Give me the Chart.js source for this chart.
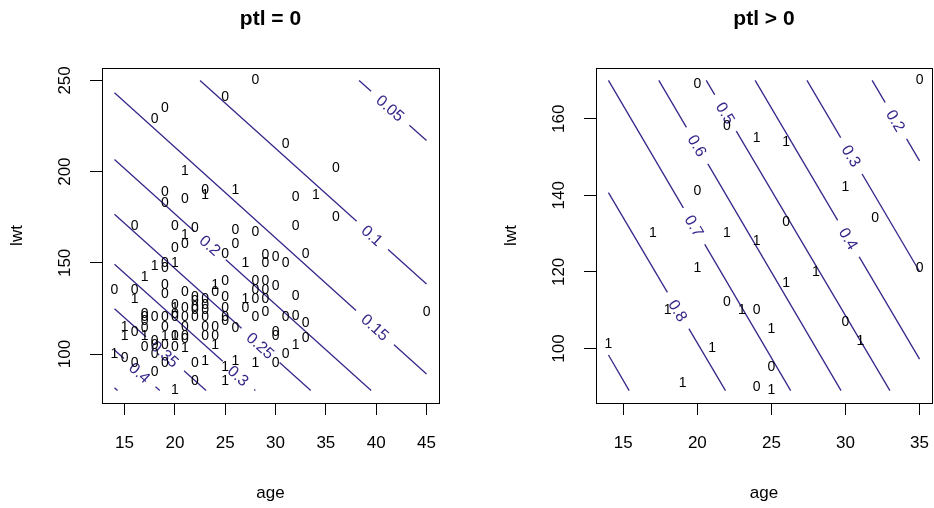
<!DOCTYPE html>
<html>
<head>
<meta charset="utf-8">
<script src="https://cdn.jsdelivr.net/npm/chart.js@4.4.1/dist/chart.umd.min.js"></script>
<style>
html, body { margin: 0; padding: 0; background: #fff; }
#wrap { position: relative; width: 934px; height: 508px; }
canvas { position: absolute; top: 0; }
</style>
</head>
<body>
<div id="wrap">
  <canvas id="leftChart" width="467" height="508" style="left:0px"></canvas>
  <canvas id="rightChart" width="467" height="508" style="left:467px"></canvas>
</div>
<script>
// ---- ptl = 0 : points (age, lwt, low) ----
var leftAge = [28,25,19,18,31,36,21,19,19,21,23,23,26,32,34,36,16,20,22,26,28,32,21,20,21,26,25,33,29,29,30,31,27,18,19,19,20,17,19,25,24,28,29,28,29,30,14,16,16,19,21,22,22,22,22,22,23,23,23,23,23,23,24,24,24,24,25,25,25,25,26,27,28,29,27,28,29,32,31,32,33,33,30,30,32,31,30,28,26,25,22,23,22,25,20,19,18,14,15,16,17,18,18,19,20,21,20,20,21,21,19,19,18,15,15,16,17,17,17,17,17,18,19,20,20,20,20,21,21,21,45];
var leftLwt = [250,241,235,229,215,202,200,189,183,185,190,187,190,186,187,175,170,170,169,168,167,170,165,158,160,160,155,155,154,150,153,150,150,148,150,147,150,142,138,140,138,140,140,135,135,137,135,135,130,133,134,131,129,126,124,120,130,127,124,120,115,110,134,115,110,105,131,125,120,118,114,130,130,130,125,120,123,132,120,121,117,109,112,110,105,100,95,95,96,93,95,96,85,85,80,95,90,100,98,95,104,105,100,105,104,103,110,110,110,108,110,115,107,115,110,112,110,122,120,118,114,120,120,122,120,127,125,125,120,115,123];
var leftLow = [0,0,0,0,0,0,1,0,0,0,0,1,1,0,1,0,0,0,0,0,0,0,1,0,0,0,0,0,0,0,0,0,1,1,0,0,1,1,0,0,1,0,0,0,0,0,0,0,1,0,0,0,0,0,0,0,0,0,0,0,0,0,0,0,0,1,0,0,0,0,0,1,0,0,0,0,0,0,0,0,0,0,0,0,1,0,0,1,1,1,0,1,0,1,1,0,0,1,0,0,0,0,0,0,0,1,0,1,0,0,1,0,0,1,1,0,1,0,0,0,0,0,0,0,0,0,1,0,0,0,0];

// ---- ptl = 0 : contour lines (level, from, to, label position) ----
var leftLevels   = ['0.05', '0.1', '0.15', '0.2', '0.25', '0.3', '0.35', '0.4', null];
var leftLineFrom = [[38.3,250],[22.5,250],[14,243.2],[14,206.7],[14,176.6],[14,149.2],[14,124.9],[14,102.2],[14,81.5]];
var leftLineTo   = [[45,217.1],[45,138.4],[45,89.1],[39.5,80],[33.5,80],[28,80],[23.1,80],[18.5,80],[14.3,80]];
var leftLabelAt  = [[41.4,234.8],[39.6,165],[39.9,114.7],[23.5,159.6],[28.5,104.7],[26.3,88.2],[19,100.1],[16.5,89.8],null];

// ---- ptl > 0 : points ----
var rightAge = [20,35,22,24,26,30,20,26,32,17,22,24,20,35,28,26,22,23,24,18,25,30,31,14,21,25,19,24,25];
var rightLwt = [169,170,158,155,154,142,141,133,134,130,130,128,121,121,120,117,112,110,110,110,105,107,102,101,100,95,91,90,89];
var rightLow = [0,0,0,1,1,1,0,0,0,1,1,1,1,0,1,1,0,1,0,1,1,0,1,1,1,0,1,0,1];

// ---- ptl > 0 : contour lines ----
var rightLevels   = ['0.2', '0.3', '0.4', '0.5', '0.6', '0.7', '0.8', null];
var rightLineFrom = [[31.8,170],[27.4,170],[23.9,170],[20.6,170],[17.4,170],[14,170],[14,140.7],[14,98.3]];
var rightLineTo   = [[35,149],[35,120.1],[35,97.2],[33,89],[29.7,89],[26.3,89],[21.9,89],[15.4,89]];
var rightLabelAt  = [[33.4,159.5],[30.4,150.3],[30.2,128.7],[21.9,161.5],[20,153],[19.8,132],[18.7,109.9],null];

// axis ticks
var leftXTicks = [15, 20, 25, 30, 35, 40, 45];
var leftYTicks = [100, 150, 200, 250];
var rightXTicks = [15, 20, 25, 30, 35];
var rightYTicks = [100, 120, 140, 160];

var contourColor = '#36278a';
var fontFamily = "'Liberation Sans', Arial, Helvetica, sans-serif";

// draws box, axis text, contour labels and the 0/1 point marks
var panelDecor = {
  id: 'panelDecor',
  afterDatasetsDraw: function (chart) {
    var ctx = chart.ctx, xs = chart.scales.x, ys = chart.scales.y, area = chart.chartArea;
    var o = chart.options.plugins.panelDecor;

    // contour labels with a gap in the line
    chart.data.datasets.forEach(function (ds, i) {
      if (!ds.levelLabel) return;
      var pts = chart.getDatasetMeta(i).data;
      var ang = Math.atan2(pts[1].y - pts[0].y, pts[1].x - pts[0].x);
      var px = xs.getPixelForValue(ds.labelAt[0]);
      var py = ys.getPixelForValue(ds.labelAt[1]);
      ctx.save();
      ctx.translate(px, py);
      ctx.rotate(ang);
      ctx.font = '16px ' + fontFamily;
      var w = ctx.measureText(ds.levelLabel).width;
      ctx.fillStyle = '#fff';
      ctx.fillRect(-w / 2 - 10, -4, w + 20, 8);
      ctx.fillStyle = contourColor;
      ctx.textAlign = 'center';
      ctx.textBaseline = 'middle';
      ctx.fillText(ds.levelLabel, 0, 1);
      ctx.restore();
    });

    // point marks
    chart.data.datasets.forEach(function (ds, i) {
      if (!ds.marks) return;
      var meta = chart.getDatasetMeta(i);
      ctx.save();
      ctx.font = '14px ' + fontFamily;
      ctx.fillStyle = '#000';
      ctx.textAlign = 'center';
      ctx.textBaseline = 'middle';
      meta.data.forEach(function (el, j) {
        ctx.fillText(String(ds.marks[j]), el.x, el.y);
      });
      ctx.restore();
    });

    // box
    ctx.save();
    ctx.strokeStyle = '#000';
    ctx.lineWidth = 1;
    ctx.strokeRect(Math.round(area.left) + 0.5, Math.round(area.top) + 0.5,
                   Math.round(area.right - area.left), Math.round(area.bottom - area.top));

    // tick labels
    ctx.fillStyle = '#000';
    ctx.font = '17px ' + fontFamily;
    ctx.textAlign = 'center';
    ctx.textBaseline = 'middle';
    o.xTicks.forEach(function (v) {
      ctx.fillText(String(v), xs.getPixelForValue(v), area.bottom + 40);
    });
    o.yTicks.forEach(function (v) {
      ctx.save();
      ctx.translate(area.left - 37, ys.getPixelForValue(v));
      ctx.rotate(-Math.PI / 2);
      ctx.fillText(String(v), 0, 0);
      ctx.restore();
    });

    // axis titles
    var cx = (area.left + area.right) / 2, cy = (area.top + area.bottom) / 2;
    ctx.fillText('age', cx, area.bottom + 90);
    ctx.save();
    ctx.translate(area.left - 85, cy);
    ctx.rotate(-Math.PI / 2);
    ctx.fillText('lwt', 0, 0);
    ctx.restore();

    // panel title
    ctx.font = 'bold 21px ' + fontFamily;
    ctx.fillText(o.title, cx, 19);
    ctx.restore();
  }
};

function buildPanel(canvasId, p) {
  var datasets = [];
  p.levels.forEach(function (lev, i) {
    datasets.push({
      type: 'line',
      data: [{ x: p.from[i][0], y: p.from[i][1] }, { x: p.to[i][0], y: p.to[i][1] }],
      borderColor: contourColor,
      borderWidth: 1.3,
      pointRadius: 0,
      fill: false,
      levelLabel: lev,
      labelAt: p.labelAt[i]
    });
  });
  datasets.push({
    type: 'scatter',
    data: p.age.map(function (a, i) { return { x: a, y: p.lwt[i] }; }),
    pointRadius: 0,
    marks: p.low
  });

  var tickGrid = { drawOnChartArea: false, drawTicks: true, tickLength: 12, color: '#000', lineWidth: 1 };

  return new Chart(document.getElementById(canvasId), {
    type: 'scatter',
    data: { datasets: datasets },
    options: {
      responsive: false,
      animation: false,
      layout: { padding: { top: 68, right: p.padRight, left: 0, bottom: 0 } },
      plugins: {
        legend: { display: false },
        tooltip: { enabled: false },
        panelDecor: { title: p.title, xTicks: p.xTicks, yTicks: p.yTicks }
      },
      scales: {
        x: {
          type: 'linear', min: p.xMin, max: p.xMax,
          afterBuildTicks: function (s) { s.ticks = p.xTicks.map(function (v) { return { value: v }; }); },
          afterFit: function (s) { s.height = 105; },
          ticks: { display: false },
          grid: tickGrid,
          border: { display: false }
        },
        y: {
          type: 'linear', min: p.yMin, max: p.yMax,
          afterBuildTicks: function (s) { s.ticks = p.yTicks.map(function (v) { return { value: v }; }); },
          afterFit: function (s) { s.width = p.yAxisWidth; },
          ticks: { display: false },
          grid: tickGrid,
          border: { display: false }
        }
      }
    },
    plugins: [panelDecor]
  });
}

buildPanel('leftChart', {
  title: 'ptl = 0',
  age: leftAge, lwt: leftLwt, low: leftLow,
  levels: leftLevels, from: leftLineFrom, to: leftLineTo, labelAt: leftLabelAt,
  xTicks: leftXTicks, yTicks: leftYTicks,
  xMin: 12.76, xMax: 46.24, yMin: 73.2, yMax: 256.8,
  yAxisWidth: 102, padRight: 28
});

buildPanel('rightChart', {
  title: 'ptl > 0',
  age: rightAge, lwt: rightLwt, low: rightLow,
  levels: rightLevels, from: rightLineFrom, to: rightLineTo, labelAt: rightLabelAt,
  xTicks: rightXTicks, yTicks: rightYTicks,
  xMin: 13.16, xMax: 35.84, yMin: 85.76, yMax: 173.24,
  yAxisWidth: 129, padRight: 2
});
</script>
</body>
</html>
